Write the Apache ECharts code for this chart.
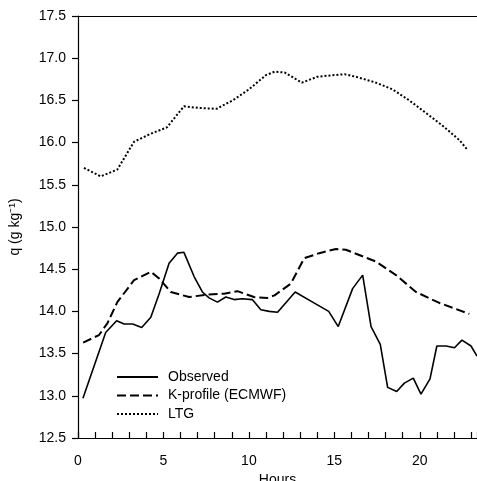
<!DOCTYPE html>
<html>
<head>
<meta charset="utf-8">
<script src="https://cdn.jsdelivr.net/npm/echarts@6/dist/echarts.min.js"></script>
<style>html,body{margin:0;padding:0;background:#fff;}#c{width:477px;height:481px;}</style>
</head>
<body>
<div id="c"></div>
<script>
var seriesNames = ['Observed', 'K-profile (ECMWF)', 'LTG'];
var xTickLabels = [0, 5, 10, 15, 20];
var yTickLabels = [12.5, 13.0, 13.5, 14.0, 14.5, 15.0, 15.5, 16.0, 16.5, 17.0, 17.5];

var observedHours = [0.29, 1.62, 2.26, 2.7, 3.2, 3.73, 4.26, 4.75, 5.33, 5.82, 6.2, 6.8, 7.28, 7.67, 8.16, 8.65, 9.14, 9.6, 10.2, 10.7, 11.19, 11.68, 12.71, 13.73, 14.67, 15.23, 16.07, 16.66, 17.15, 17.69, 18.12, 18.65, 19.1, 19.62, 20.07, 20.6, 21.0, 21.54, 22.03, 22.47, 23.0, 23.35];
var observedQ = [12.97, 13.75, 13.89, 13.85, 13.85, 13.81, 13.93, 14.21, 14.57, 14.69, 14.70, 14.41, 14.23, 14.16, 14.11, 14.17, 14.14, 14.15, 14.14, 14.02, 14.00, 13.99, 14.23, 14.11, 14.00, 13.82, 14.27, 14.43, 13.82, 13.61, 13.10, 13.05, 13.15, 13.21, 13.02, 13.20, 13.59, 13.59, 13.57, 13.66, 13.59, 13.47];

var kprofHours = [0.3, 1.23, 1.72, 2.3, 3.28, 4.26, 4.75, 5.43, 6.5, 7.57, 8.55, 9.33, 10.3, 11.09, 11.5, 12.46, 13.24, 14.12, 15.1, 15.68, 17.44, 18.61, 19.78, 21.15, 22.9];
var kprofQ = [13.63, 13.72, 13.86, 14.11, 14.37, 14.47, 14.39, 14.23, 14.17, 14.20, 14.21, 14.24, 14.17, 14.16, 14.19, 14.33, 14.63, 14.69, 14.74, 14.73, 14.59, 14.43, 14.23, 14.10, 13.97];

var ltgHours = [0.35, 1.33, 2.3, 3.28, 4.2, 5.2, 6.2, 7.1, 8.1, 9.05, 10.0, 11.0, 11.5, 12.1, 13.1, 14.0, 15.0, 15.6, 16.27, 17.44, 18.41, 19.39, 20.37, 21.34, 22.32, 22.81];
var ltgQ = [15.70, 15.60, 15.68, 16.01, 16.10, 16.18, 16.43, 16.41, 16.40, 16.50, 16.63, 16.80, 16.84, 16.83, 16.71, 16.78, 16.80, 16.81, 16.78, 16.71, 16.63, 16.50, 16.35, 16.20, 16.03, 15.91];

function pairs(xs, ys) { return xs.map(function (x, i) { return [x, ys[i]]; }); }

var XMIN = 0, XMAX = 23.35, YMIN = yTickLabels[0], YMAX = yTickLabels[yTickLabels.length - 1];
var font = 'Liberation Sans, Arial, Helvetica, sans-serif';
var FS = 14;

var chart = echarts.init(document.getElementById('c'), null, { renderer: 'canvas' });
chart.setOption({
  animation: false,
  backgroundColor: '#fff',
  textStyle: { fontFamily: font, color: '#000' },
  grid: { left: 78, right: 0, top: 16, bottom: 43, containLabel: false, outerBoundsMode: 'none' },
  legend: {
    orient: 'vertical',
    left: 111, top: 365,
    itemWidth: 41, itemHeight: 14, itemGap: 4.5,
    itemStyle: { opacity: 0, borderWidth: 0 },
    textStyle: { fontFamily: font, fontSize: FS, color: '#000', padding: [0, 0, 0, 5] },
    data: seriesNames
  },
  xAxis: [
    {
      type: 'value', min: XMIN, max: XMAX, interval: 5,
      name: 'Hours', nameLocation: 'middle', nameGap: 35,
      nameTextStyle: { fontFamily: font, fontSize: FS, color: '#000' },
      axisLine: { lineStyle: { color: '#000', width: 1.2 } },
      axisTick: { show: false },
      axisLabel: { fontFamily: font, fontSize: FS, color: '#000', margin: 16, showMaxLabel: false,
        formatter: function (v) { return xTickLabels.indexOf(v) >= 0 ? String(v) : ''; } },
      splitLine: { show: false }
    },
    {
      type: 'value', min: XMIN, max: XMAX, interval: 1, position: 'bottom',
      axisLine: { show: false },
      axisTick: { show: true, inside: true, length: 6, lineStyle: { color: '#000', width: 1.2 } },
      axisLabel: { show: false },
      splitLine: { show: false }
    },
    {
      type: 'value', min: XMIN, max: XMAX, position: 'top',
      axisLine: { show: true, lineStyle: { color: '#000', width: 1.2 } },
      axisTick: { show: false }, axisLabel: { show: false }, splitLine: { show: false }
    }
  ],
  yAxis: {
    type: 'value', min: YMIN, max: YMAX, interval: 0.5,
    name: 'q (g kg\u207B\u00B9)', nameLocation: 'middle', nameGap: 56, nameRotate: 90,
    nameTextStyle: { fontFamily: font, fontSize: FS, color: '#000' },
    axisLine: { show: true, lineStyle: { color: '#000', width: 1.2 } },
    axisTick: { show: true, inside: false, length: 6, lineStyle: { color: '#000', width: 1.2 } },
    axisLabel: { fontFamily: font, fontSize: FS, color: '#000', margin: 12,
      formatter: function (v) { return v.toFixed(1); } },
    splitLine: { show: false }
  },
  series: [
    {
      name: seriesNames[0], type: 'line', xAxisIndex: 0, symbol: 'none',
      data: pairs(observedHours, observedQ),
      lineStyle: { color: '#000', width: 1.6, type: 'solid' },
      itemStyle: { color: '#000' }
    },
    {
      name: seriesNames[1], type: 'line', xAxisIndex: 0, symbol: 'none',
      data: pairs(kprofHours, kprofQ),
      lineStyle: { color: '#000', width: 2, type: [9, 4] },
      itemStyle: { color: '#000' }
    },
    {
      name: seriesNames[2], type: 'line', xAxisIndex: 0, symbol: 'none',
      data: pairs(ltgHours, ltgQ),
      lineStyle: { color: '#000', width: 2, type: [2, 2] },
      itemStyle: { color: '#000' }
    }
  ]
});
</script>
</body>
</html>
